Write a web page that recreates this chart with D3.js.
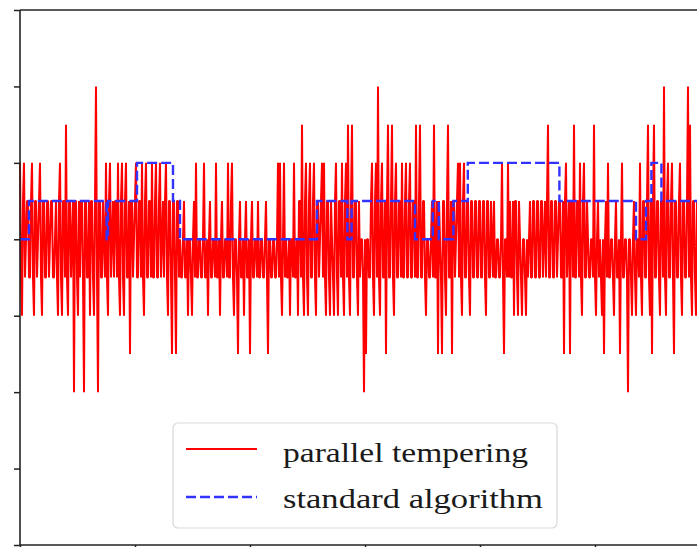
<!DOCTYPE html>
<html>
<head>
<meta charset="utf-8">
<script src="https://cdn.jsdelivr.net/npm/d3@7"></script>
<style>
  html, body { margin: 0; padding: 0; background: #fff; }
  svg { display: block; }
</style>
</head>
<body>
<svg id="chart" width="697" height="547"></svg>
<script>
// Energy level visited at each recorded step (parallel tempering run)
const parallelTempering = [
  2,-1,-2,1,2,-1,0,1,1,-1,-1,1,2,-1,-2,1,1,-1,0,1,
  2,-1,-2,1,1,-1,-1,1,1,-1,0,1,1,-1,-1,0,1,-1,-2,1,
  2,-1,-2,1,1,-1,3,-1,-2,1,1,-1,0,1,-4,1,1,-1,-2,1,
  -1,1,1,-1,-4,1,1,-1,-1,1,-2,1,1,-1,-2,1,4,-1,-4,1,
  1,-1,-1,1,0,-1,2,-1,-2,1,2,-1,0,1,-1,1,1,-1,2,-1,
  -2,1,2,-1,-2,1,2,-1,-1,1,-3,1,1,-1,0,1,2,-1,-1,1,
  1,-1,2,-1,-2,1,2,-1,-1,1,1,-1,2,-1,-1,1,2,-1,-1,1,
  2,-1,0,1,-1,1,2,-1,-2,1,1,-1,-3,1,1,-1,-3,1,1,-1,
  0,-1,-1,0,1,-1,-1,0,-2,0,0,-1,-2,0,1,-1,2,-1,-1,0,
  0,-1,-1,0,2,-1,-1,0,-2,0,1,-1,-1,0,0,-1,2,-1,-1,0,
  -2,0,1,-1,-1,0,0,-1,2,-1,-1,1,2,-1,-2,0,0,-1,-3,0,
  1,-1,-1,0,-2,0,1,-1,-1,0,-3,0,1,-1,-1,0,0,-1,1,-1,
  -1,0,0,-1,-1,0,1,-1,-3,0,0,-1,-1,0,0,-1,-1,0,2,-1,
  2,-1,-2,0,2,-1,0,-1,-1,0,-2,0,0,-1,2,-1,-1,0,-2,1,
  1,-1,3,-1,-2,1,2,-1,-2,1,2,-1,-1,1,2,-1,-2,1,1,-1,
  0,1,2,-1,2,-1,-2,1,1,-1,-2,1,0,-1,-2,1,2,-1,-2,1,
  1,-1,2,-1,-2,1,2,-1,3,-1,-2,1,3,-1,-1,1,1,-1,-2,1,
  -1,0,0,-1,-4,0,-3,0,0,-1,-1,1,2,-1,-2,1,2,-1,4,-1,
  -2,1,2,-1,-1,1,-3,1,3,-1,-1,1,3,-1,-2,1,2,-1,-1,1,
  1,-1,2,-1,-1,1,2,-1,-1,1,2,-1,-1,1,1,-1,3,-1,-1,1,
  3,-1,-1,1,1,-1,-2,0,0,-1,-1,0,1,-1,3,-1,-1,1,-3,1,
  0,-1,-3,1,1,-1,-2,1,3,-1,-1,1,-3,1,1,-1,0,1,2,-1,
  2,-1,-2,1,2,-1,-1,1,1,-1,-2,1,1,-1,-1,1,1,-1,-1,1,
  1,-1,-1,1,1,-1,-2,1,1,-1,-1,1,0,-1,1,-1,-1,0,0,-1,
  -1,0,2,-1,-3,0,0,-1,2,-1,1,-1,-1,1,-2,1,1,-1,-2,1,
  0,-1,-2,0,0,-1,-2,0,-1,0,1,-1,-1,1,1,-1,-1,1,1,-1,
  -1,1,1,-1,0,1,-1,1,3,-1,-1,1,1,-1,-1,1,1,-1,0,1,
  1,-1,-1,1,-3,1,2,-1,0,1,-3,1,1,-1,3,-1,-1,1,1,-1,
  2,-1,-2,1,2,-1,-1,1,0,-1,-1,0,0,-1,3,-1,-2,0,1,-1,
  0,-1,-2,0,-3,0,1,-1,2,-1,-1,0,0,-1,-2,0,1,-1,-1,0,
  -3,0,2,-1,-1,0,0,-1,-4,0,0,-1,-2,0,1,-1,-2,0,0,-1,
  2,-1,-2,1,1,-1,-1,1,3,-1,-2,1,-3,1,3,-1,-1,1,1,-1,
  -2,1,1,-1,4,-1,-2,1,2,-1,-1,1,2,-1,-3,1,1,-1,-1,1,
  2,-1,-2,1,1,-1,-1,1,4,-1,3,-1,-2,1,1,-1,-2,1,1,-1,
  -1,1,1,-1,0,1,-1,1,1,-1,0
];

// Standard algorithm: step at which the level changes, and the new level
const standardSteps  = [0, 9, 86.6, 88, 117, 153, 160, 297, 327.4, 331.6, 395, 412.8, 418.8, 433.4, 447.8, 539.4, 616, 626, 631.4, 641.4, 690];
const standardLevels = [0, 1, 0,    1,  2,   1,   0,   1,   0,     1,     0,   1,     0,     1,     2,     1,     0,   1,   2,     1,     1];

const xTicks = [0, 115, 230, 345, 460, 575, 690];
const yTicks = [-8, -6, -4, -2, 0, 2, 4, 6];

const legendLabels = ["parallel tempering", "standard algorithm"];

const svg = d3.select("#chart");
const W = 697, H = 547;
const margin = { left: 20, top: 10, right: -13, bottom: 2 };

const x = d3.scaleLinear().domain([0, 690]).range([margin.left, W - margin.right]);
const y = d3.scaleLinear().domain([-8, 6]).range([H - margin.bottom, margin.top]);

svg.append("rect").attr("width", W).attr("height", H).attr("fill", "#fff");

const plot = svg.append("g");

// red trace
const redLine = d3.line()
  .x((d, i) => x(i))
  .y(d => y(d));
plot.append("path")
  .datum(parallelTempering)
  .attr("d", redLine)
  .attr("fill", "none")
  .attr("stroke", "#ff0000")
  .attr("stroke-width", 2)
  .attr("stroke-linejoin", "bevel");

// blue dashed step trace
const blueData = standardSteps.map((s, i) => ({ s, v: standardLevels[i] }));
const blueLine = d3.line()
  .x(d => x(d.s))
  .y(d => y(d.v))
  .curve(d3.curveStepAfter);
plot.append("path")
  .datum(blueData)
  .attr("d", blueLine)
  .attr("fill", "none")
  .attr("stroke", "#3333ff")
  .attr("stroke-width", 2.4)
  .attr("stroke-dasharray", "10,4");

// axes (ticks without labels)
const xAxis = d3.axisBottom(x).tickValues(xTicks).tickSize(6).tickFormat("");
const yAxis = d3.axisLeft(y).tickValues(yTicks).tickSize(6).tickFormat("");

const gx = svg.append("g").attr("transform", `translate(0,${y(-8)})`).call(xAxis);
const gy = svg.append("g").attr("transform", `translate(${x(0)},0)`).call(yAxis);
[gx, gy].forEach(g => {
  g.select(".domain").remove();
  g.selectAll(".tick line").attr("stroke", "#222").attr("stroke-width", 1.5);
});

// spines
const spine = svg.append("g").attr("stroke", "#222").attr("stroke-width", 1.6).attr("fill", "none");
spine.append("line").attr("x1", x(0)).attr("x2", x(0)).attr("y1", y(6)).attr("y2", y(-8));
spine.append("line").attr("x1", x(0)).attr("x2", x(690)).attr("y1", y(6)).attr("y2", y(6));
spine.append("line").attr("x1", x(0)).attr("x2", x(690)).attr("y1", y(-8)).attr("y2", y(-8));

// legend
const legend = svg.append("g").attr("transform", "translate(173,423)");
legend.append("rect")
  .attr("width", 384).attr("height", 105)
  .attr("rx", 5).attr("ry", 5)
  .attr("fill", "rgba(255,255,255,0.8)")
  .attr("stroke", "#d9d9d9").attr("stroke-width", 1.2);

const legendStyles = [
  { color: "#ff0000", dash: null, width: 2, textWidth: 245 },
  { color: "#3333ff", dash: "10,4", width: 2.4, textWidth: 260 }
];
legendLabels.forEach((label, i) => {
  const cy = 26 + i * 48;
  legend.append("line")
    .attr("x1", 13).attr("x2", 84).attr("y1", cy).attr("y2", cy)
    .attr("stroke", legendStyles[i].color)
    .attr("stroke-width", legendStyles[i].width)
    .attr("stroke-dasharray", legendStyles[i].dash);
  legend.append("text")
    .attr("x", 110).attr("y", i === 0 ? 39 : 85)
    .attr("font-family", "'Liberation Serif', 'DejaVu Serif', serif")
    .attr("font-size", 28)
    .attr("fill", "#1a1a1a")
    .attr("textLength", legendStyles[i].textWidth)
    .attr("lengthAdjust", "spacingAndGlyphs")
    .text(label);
});
</script>
</body>
</html>
